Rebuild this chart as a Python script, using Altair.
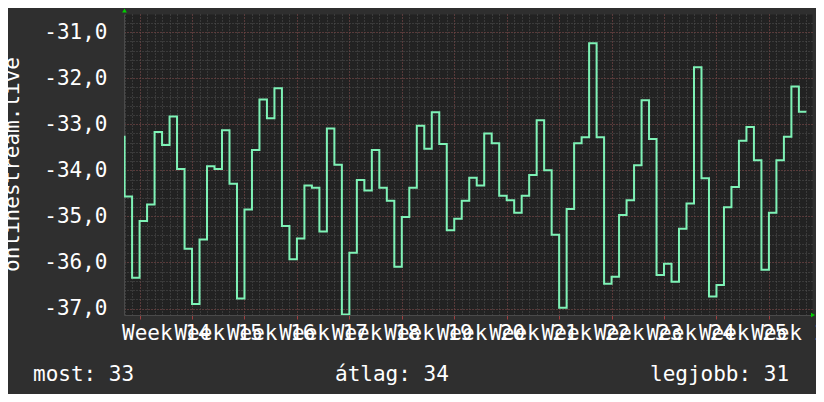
import altair as alt
import pandas as pd
import numpy as np

# ---- data (daily values, day 0 = Monday of Week 14) ----
first_day = -2
lead_in_value = -33.27          # value of the day before the first shown day (left-edge stub)
values = [
    -34.57, -36.33, -35.10, -34.74, -33.17, -33.45, -32.83, -33.97, -35.70, -36.90,
    -35.50, -33.91, -33.97, -33.13, -34.29, -36.78, -34.85, -33.56, -32.46, -32.87,
    -32.22, -35.21, -35.93, -35.48, -34.33, -34.38, -35.33, -33.09, -33.88, -37.13,
    -35.79, -34.21, -34.44, -33.56, -34.38, -34.66, -36.09, -35.01, -34.38, -33.03,
    -33.53, -32.74, -33.43, -35.30, -35.05, -34.66, -34.16, -34.33, -33.20, -33.41,
    -34.55, -34.65, -34.92, -34.55, -34.10, -32.91, -34.00, -35.40, -36.98, -34.84,
    -33.41, -33.28, -31.24, -33.28, -36.46, -36.31, -34.97, -34.65, -33.89, -32.48,
    -33.32, -36.27, -36.03, -36.42, -35.27, -34.72, -31.76, -34.17, -36.74, -36.49,
    -34.80, -34.36, -33.36, -33.06, -33.78, -36.16, -34.92, -33.78, -33.27, -32.18,
    -32.73,
]
first_week = 14
week_starts = list(range(0, 85, 7))          # Mondays, weeks 14..26
y_major = [-37, -36, -35, -34, -33, -32, -31]
y_title = "onlinestream.live"
legend_labels = ["most", "átlag", "legjobb"]
legend_values = [33, 34, 31]

days = [first_day - 0.1] + [first_day + i for i in range(len(values))] + [first_day + len(values)]
vals = [lead_in_value] + values + [values[-1]]
df = pd.DataFrame({"day": days, "value": vals})

FONT = "DejaVu Sans Mono"
x_scale = alt.Scale(domain=[-2.08, 89.75], nice=False, zero=False)
y_scale = alt.Scale(domain=[-37.14, -30.606], nice=False, zero=False)

minor_x = list(range(-2, 90))
minor_y = [round(v, 1) for v in np.arange(-37.0, -30.59, 0.2)]

MAJOR = "#773a3a"
MINOR = "#525252"

# minor grid (gray dotted)
minor = alt.Chart(df).mark_line(opacity=0).encode(
    x=alt.X("day:Q", scale=x_scale, axis=alt.Axis(
        orient="top", values=minor_x, labels=False, ticks=False, domain=False,
        grid=True, gridColor=MINOR, gridDash=[1, 2], gridWidth=1, title=None)),
    y=alt.Y("value:Q", scale=y_scale, axis=alt.Axis(
        orient="right", values=minor_y, labels=False, ticks=False, domain=False,
        grid=True, gridColor=MINOR, gridDash=[1, 2], gridWidth=1, title=None)),
)

line = alt.Chart(df).mark_line(
    interpolate="step-after", color="#7ef2b6", strokeWidth=2, clip=True
).encode(
    x=alt.X("day:Q", scale=x_scale, axis=alt.Axis(
        orient="bottom", values=week_starts,
        labelExpr=f"'Week ' + ({first_week} + datum.value / 7)",
        labelOffset=26.2, labelOverlap=False, labelFlush=False,
        labelFont=FONT, labelFontSize=21, labelColor="#ffffff",
        labelPadding=3, tickSize=4, tickColor="#a04040",
        domain=True, domainColor="#4a4a4a",
        grid=True, gridColor=MAJOR, gridDash=[1, 2], gridWidth=1, title=None)),
    y=alt.Y("value:Q", scale=y_scale, axis=alt.Axis(
        orient="left", values=y_major,
        labelExpr="(datum.value < 0 ? '-' : '') + replace(format(abs(datum.value), '.1f'), '.', ',')",
        labelFont=FONT, labelFontSize=21, labelColor="#ffffff",
        labelPadding=17, ticks=False, labelFlush=False,
        domain=True, domainColor="#4a4a4a",
        grid=True, gridColor=MAJOR, gridDash=[1, 2], gridWidth=1,
        title=y_title, titleFont=FONT, titleFontSize=21, titleFontWeight="normal",
        titleColor="#ffffff", titleAngle=270, titleX=-105.5, titleY=150,
        titleAlign="center", titleBaseline="alphabetic")),
)

one = pd.DataFrame({"a": [0]})
arrow_up = alt.Chart(one).mark_point(
    shape="triangle-up", filled=True, color="#00d000", size=22, opacity=1
).encode(x=alt.value(0.5), y=alt.value(-3.5))
arrow_right = alt.Chart(one).mark_point(
    shape="triangle-right", filled=True, color="#00d000", size=22, opacity=1
).encode(x=alt.value(689), y=alt.value(301))

legend_x = [-91, 211, 526]
legend_layers = []
for lab, val, px in zip(legend_labels, legend_values, legend_x):
    t = pd.DataFrame({"t": [f"{lab}: {val}"]})
    legend_layers.append(
        alt.Chart(t).mark_text(
            align="left", baseline="alphabetic", font=FONT, fontSize=21, color="#ffffff"
        ).encode(x=alt.value(px), y=alt.value(367), text="t:N")
    )

chart = alt.layer(minor, line, arrow_up, arrow_right, *legend_layers).resolve_axis(
    x="independent", y="independent"
).properties(
    width=688, height=301,
    padding={"left": 116, "top": 6, "right": 4, "bottom": 79},
    autosize=alt.AutoSizeParams(type="none"),
).configure(background="#2f2f2f").configure_view(fill="#222222", stroke="transparent")

chart.save("out.html", embed_options={"renderer": "svg", "actions": False})
